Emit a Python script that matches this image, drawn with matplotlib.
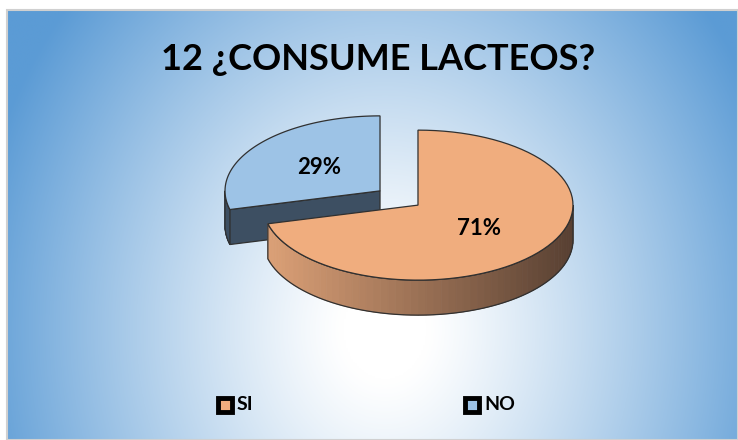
import numpy as np
import matplotlib
matplotlib.use('Agg')
import matplotlib.pyplot as plt
from matplotlib.patches import Polygon, Rectangle

# data
labels = ['SI', 'NO']
values = [71, 29]
top_colors = ['#f0ad7e', '#9dc3e6']
title = '12 ¿CONSUME LACTEOS?'

plt.rcParams['font.family'] = ['Lato', 'DejaVu Sans']

W, H = 738, 440
fig = plt.figure(figsize=(W / 100, H / 100), dpi=100)
ax = fig.add_axes([0, 0, 1, 1])
ax.set_xlim(0, W)
ax.set_ylim(H, 0)
ax.axis('off')

# radial background
x0, y0 = 7, 10
xs = np.linspace(x0, W, 400)
ys = np.linspace(y0, H, 300)
X, Y = np.meshgrid(xs, ys)
d = np.sqrt(((X - 385) / 420) ** 2 + ((Y - 330) / 500) ** 2)
t = np.clip((d - 0.1) / 0.9, 0, 1) ** 1.15
blue = np.array([91, 155, 213]) / 255
white = np.array([1.0, 1.0, 1.0])
img = white[None, None, :] * (1 - t[..., None]) + blue[None, None, :] * t[..., None]
ax.imshow(img, extent=[x0, W, H, y0], aspect='auto', zorder=0)
ax.add_patch(Rectangle((x0, y0), W - x0, H - y0, fill=False,
                       edgecolor='#d0d0d0', lw=1.5, zorder=1))

# pie geometry (pixels)
cx, cy = 399, 198
rx, ry = 155, 75
depth = 35
explode = 0.155


def pt(a, off, dz=0.0):
    r = np.radians(a)
    return (cx + off[0] + rx * np.cos(r), cy + off[1] - ry * np.sin(r) + dz)


def arc(a0, a1, off, dz=0.0, n=80):
    return [pt(a, off, dz) for a in np.linspace(a0, a1, n)]


total = sum(values)
spans = []
start = 90.0
for v in values:
    sweep = 360.0 * v / total
    spans.append((start - sweep, start))  # clockwise from 12 o'clock
    start -= sweep

edge = '#303030'
wall_light = np.array([222, 162, 120]) / 255
wall_dark = np.array([88, 64, 50]) / 255
cut_dark = '#3d4f62'

# draw back slice (NO) first, then SI
for i in [1, 0]:
    a0, a1 = spans[i]
    mid = (a0 + a1) / 2
    mr = np.radians(mid)
    off = (explode * rx * np.cos(mr), -explode * ry * np.sin(mr))
    apex = (cx + off[0], cy + off[1])
    apex_b = (apex[0], apex[1] + depth)
    z = 2 + (1 - i) * 3

    # radial cut faces facing the viewer
    for a, nrm in [(a1, a1 + 90), (a0, a0 - 90)]:
        if np.sin(np.radians(nrm)) < -0.05:
            poly = [apex, pt(a, off), pt(a, off, depth), apex_b]
            ax.add_patch(Polygon(poly, closed=True, facecolor=cut_dark,
                                 edgecolor=edge, lw=0.9, zorder=z))

    # outer wall (front half only), shaded left->right
    lo = a0 % 360
    hi = lo + (a1 - a0)
    for s0, s1 in [(180, 360), (540, 720), (-180, 0)]:
        w0, w1 = max(lo, s0), min(hi, s1)
        if w1 <= w0:
            continue
        steps = np.linspace(w0, w1, 60)
        for k in range(len(steps) - 1):
            b0, b1 = steps[k], steps[k + 1]
            xm = np.cos(np.radians((b0 + b1) / 2))
            f = (xm + 1) / 2
            if i == 0:
                col = wall_light * (1 - f) + wall_dark * f
            else:
                col = cut_dark
            poly = [pt(b0, off), pt(b1, off), pt(b1, off, depth), pt(b0, off, depth)]
            ax.add_patch(Polygon(poly, closed=True, facecolor=col,
                                 edgecolor=col, lw=0.6, zorder=z))
        outline = arc(w0, w1, off) + arc(w1, w0, off, depth)
        ax.add_patch(Polygon(outline, closed=True, fill=False,
                             edgecolor=edge, lw=0.9, zorder=z + 0.5))

    # top face
    top = [apex] + arc(a0, a1, off)
    ax.add_patch(Polygon(top, closed=True, facecolor=top_colors[i],
                         edgecolor=edge, lw=0.9, zorder=z + 1))

    lx, ly = pt(mid, off)
    lx = apex[0] + 0.5 * (lx - apex[0])
    ly = apex[1] + 0.5 * (ly - apex[1])
    ax.text(lx, ly, f'{values[i] / total * 100:.0f}%', ha='center', va='center',
            fontsize=16, fontweight='bold', color='black', zorder=10)

# title
ax.text(378, 60, title, ha='center', va='center', fontsize=26,
        fontweight='bold', color='black', zorder=10)

# legend
leg_x = [225, 472]
for lab, col, lxp in zip(labels, top_colors, leg_x):
    ax.plot(lxp, 405, marker='s', markersize=9.5, markerfacecolor=col,
            markeredgecolor='black', markeredgewidth=3.5, zorder=10)
    ax.text(lxp + 12, 405, lab, ha='left', va='center', fontsize=14,
            fontweight='bold', color='black', zorder=10)

fig.savefig('out.png', dpi=100)
